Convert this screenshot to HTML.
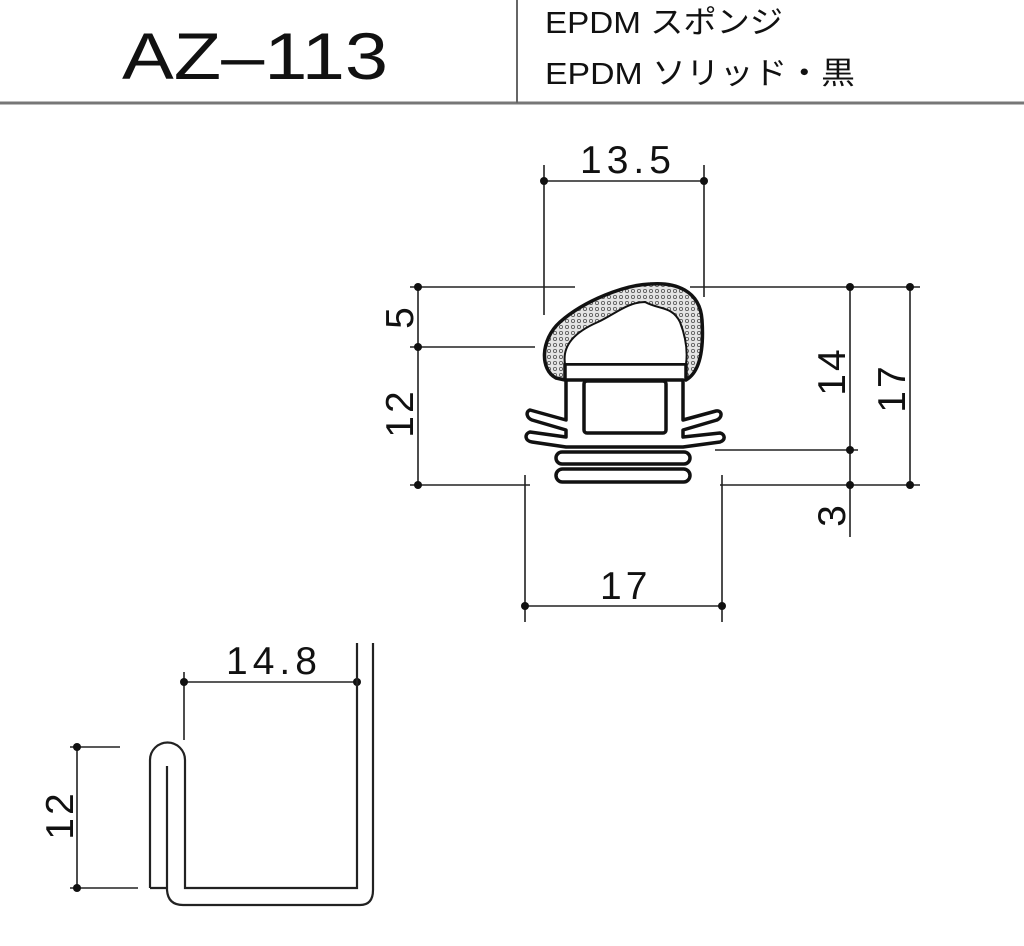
<!DOCTYPE html>
<html><head><meta charset="utf-8"><style>
body{margin:0;background:#fff;width:1024px;height:946px;overflow:hidden}
svg{display:block}
text{font-family:"Liberation Sans","Noto Sans CJK JP",sans-serif;fill:#111}
</style></head><body>
<svg width="1024" height="946" viewBox="0 0 1024 946" xmlns="http://www.w3.org/2000/svg">
<defs>
<pattern id="dots" width="6" height="6" patternUnits="userSpaceOnUse">
<rect width="6" height="6" fill="#e4e4e4"/>
<circle cx="3" cy="3" r="1.6" fill="none" stroke="#555" stroke-width="0.8"/>
</pattern>
</defs>
<line x1="0" y1="103" x2="1024" y2="103" stroke="#777" stroke-width="3"/>
<line x1="517" y1="0" x2="517" y2="103" stroke="#666" stroke-width="2"/>
<text x="122" y="79" font-size="66" textLength="266" lengthAdjust="spacingAndGlyphs">AZ–113</text>
<text x="545" y="33" font-size="31" textLength="238" lengthAdjust="spacingAndGlyphs">EPDM スポンジ</text>
<text x="545" y="84" font-size="31" textLength="310" lengthAdjust="spacingAndGlyphs">EPDM ソリッド・黒</text>

<g stroke="#222" stroke-width="1.6" fill="none">
<line x1="544" y1="165" x2="544" y2="315"/><line x1="704" y1="165" x2="704" y2="297"/>
<line x1="544" y1="181" x2="704" y2="181"/>
<line x1="410" y1="287" x2="575" y2="287"/><line x1="690" y1="287" x2="920" y2="287"/>
<line x1="410" y1="347" x2="535" y2="347"/>
<line x1="410" y1="485" x2="530" y2="485"/><line x1="720" y1="485" x2="920" y2="485"/>
<line x1="715" y1="450" x2="858" y2="450"/>
<line x1="418" y1="287" x2="418" y2="485"/>
<line x1="850" y1="287" x2="850" y2="537"/>
<line x1="910" y1="287" x2="910" y2="485"/>
<line x1="525" y1="475" x2="525" y2="622"/><line x1="722" y1="475" x2="722" y2="622"/>
<line x1="525" y1="606" x2="722" y2="606"/>
<line x1="184" y1="672" x2="184" y2="740"/><line x1="357" y1="643" x2="357" y2="690"/>
<line x1="184" y1="682" x2="357" y2="682"/>
<line x1="77" y1="747" x2="77" y2="888"/>
<line x1="70" y1="747" x2="120" y2="747"/><line x1="70" y1="888" x2="138" y2="888"/>
</g>
<g fill="#111">
<circle cx="544" cy="181" r="4"/><circle cx="704" cy="181" r="4"/>
<circle cx="418" cy="287" r="4"/><circle cx="418" cy="347" r="4"/><circle cx="418" cy="485" r="4"/>
<circle cx="850" cy="287" r="4"/><circle cx="850" cy="450" r="4"/><circle cx="850" cy="485" r="4"/>
<circle cx="910" cy="287" r="4"/><circle cx="910" cy="485" r="4"/>
<circle cx="525" cy="606" r="4"/><circle cx="722" cy="606" r="4"/>
<circle cx="184" cy="682" r="4"/><circle cx="357" cy="682" r="4"/>
<circle cx="77" cy="747" r="4"/><circle cx="77" cy="888" r="4"/>
</g>
<g font-size="39">
<text x="580" y="173" letter-spacing="5">13.5</text>
<text x="600" y="599" letter-spacing="4">17</text>
<text x="226" y="674" letter-spacing="5">14.8</text>
<text transform="translate(413,318) rotate(-90)" text-anchor="middle">5</text>
<text transform="translate(413,413) rotate(-90)" text-anchor="middle" letter-spacing="3">12</text>
<text transform="translate(845,371) rotate(-90)" text-anchor="middle" letter-spacing="3">14</text>
<text transform="translate(905,388) rotate(-90)" text-anchor="middle" letter-spacing="3">17</text>
<text transform="translate(845,516) rotate(-90)" text-anchor="middle">3</text>
<text transform="translate(73,815) rotate(-90)" text-anchor="middle" letter-spacing="3">12</text>
</g>

<g stroke="#111" stroke-width="3.5" fill="#fff" stroke-linejoin="round">
<path d="M556,378 C540,370 540,340 560,322 C585,300 625,285 650,284 C675,282 700,290 702,320 C704,350 700,372 686,380 L686,364 L565,364 L565,380 Z" fill="url(#dots)"/>
<path d="M565,364 C562,345 575,332 598,322 C615,314 628,302 645,302 C660,310 672,306 680,322 C685,335 688,350 686,364 Z" fill="#fff" stroke-width="2"/>
<path d="M566,380 L566,420 L530,410 C525,412 527,418 532,420 L566,430 L566,437 L530,432 C524,434 525,441 532,442 L566,447 L683,447 L720,442 C726,440 725,434 720,433 L683,437 L683,430 L717,420 C723,417 722,410 716,411 L683,420 L683,380 Z"/>
<rect x="584" y="381" width="82" height="52" rx="3"/>
<rect x="556" y="452" width="134" height="12" rx="6"/>
<rect x="556" y="469" width="134" height="13" rx="6.5"/>
</g>
<line x1="566" y1="380" x2="683" y2="380" stroke="#111" stroke-width="3"/>

<g stroke="#222" stroke-width="2.2" fill="none">
<path d="M150,888 L150,760 A17,17 0 0 1 185,760 L185,888 L357,888 L357,643"/>
<path d="M167,766 L167,890 Q168,905 183,905 L360,905 Q373,905 373,890 L373,643"/>
<line x1="150" y1="888" x2="167" y2="888"/>
</g>
</svg>
</body></html>
